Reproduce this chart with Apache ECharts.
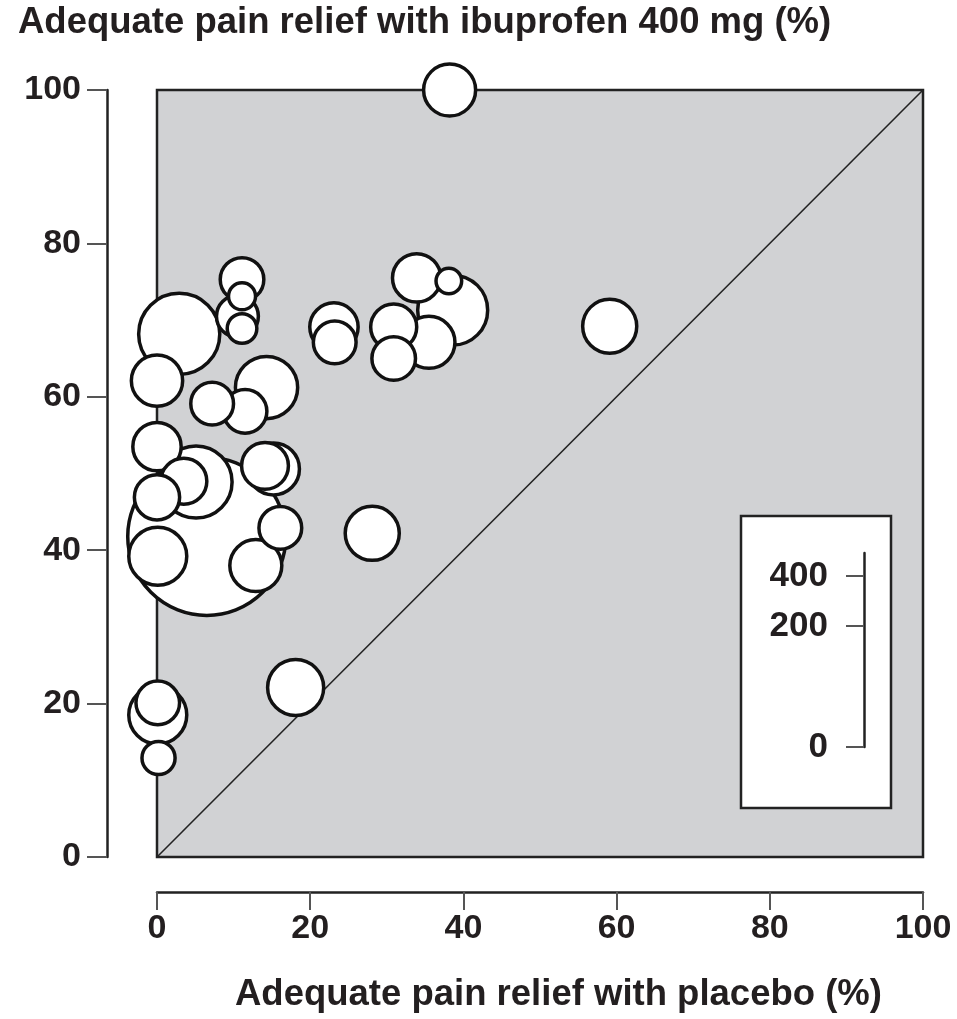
<!DOCTYPE html>
<html>
<head>
<meta charset="utf-8">
<script src="https://cdn.jsdelivr.net/npm/echarts@6/dist/echarts.min.js"></script>
<style>
  html, body { margin: 0; padding: 0; background: #fff; }
  #chart { width: 957px; height: 1019px; }
</style>
</head>
<body>
<div id="chart"></div>
<script>
// trial results: % with adequate pain relief (placebo vs ibuprofen 400 mg), trial size
var placebo   = [6.5, 2.9, 5.1, 38.6, 14.3, 0.1, 0.1, 18.1, 59.1, 28.1, 35.5, 12.9, 15.2, 38.2, 0, 0, 33.9, 23.1, 14.1, 3.5, 30.9, 0, 0.1, 11.1, 11.5, 30.9, 7.2, 16.1, 23.2, 10.5, 0.2, 11.1, 11.1, 38.1];
var ibuprofen = [41.8, 68.2, 48.9, 71.3, 61.2, 39.2, 18.5, 22.1, 69.2, 42.2, 67.1, 38.0, 50.6, 100, 62.1, 53.5, 75.5, 69.1, 51.0, 49.0, 69.1, 46.9, 20.1, 75.3, 58.1, 65.0, 59.1, 42.9, 67.1, 70.5, 12.9, 68.9, 73.1, 75.1];
var patients  = [342, 90, 71, 67, 53, 46, 46, 43, 40, 40, 37, 37, 37, 37, 36, 32, 32, 32, 30, 29, 29, 28, 26, 26, 26, 26, 25, 25, 25, 24, 15, 12, 10, 9];

var axisTicks = [0, 20, 40, 60, 80, 100];
var sizeTicks = [0, 200, 400];
var sizeMax = 515;

// px of diameter per sqrt(patient)
var K = 8.55;

var bubbles = placebo.map(function (x, i) {
  return [x, ibuprofen[i], patients[i]];
});
// biggest first so small ones sit on top
bubbles.sort(function (a, b) { return b[2] - a[2]; });

var font = 'Liberation Sans, Arial, sans-serif';
var ink = '#231f20';

var myChart = echarts.init(document.getElementById('chart'));

option = {
  animation: false,
  title: [
    {
      text: 'Adequate pain relief with ibuprofen 400 mg (%)',
      left: 18, top: 4, padding: 0,
      textStyle: { fontFamily: font, fontSize: 36.5, fontWeight: 'bold', color: ink }
    },
    {
      text: 'Adequate pain relief with placebo (%)',
      left: 235, top: 976, padding: 0,
      textStyle: { fontFamily: font, fontSize: 36.5, fontWeight: 'bold', color: ink }
    }
  ],
  grid: [
    {
      left: 157, top: 90, width: 766, height: 767,
      show: true, backgroundColor: '#d1d2d4',
      borderColor: '#222', borderWidth: 2.5
    },
    {
      // size scale
      left: 864, top: 553, width: 1, height: 194
    },
    {
      // white box around the size scale
      left: 741, top: 516, width: 150, height: 292,
      show: true, backgroundColor: '#fff',
      borderColor: '#222', borderWidth: 2.5
    }
  ],
  xAxis: [
    {
      gridIndex: 0,
      type: 'value', min: 0, max: 100, interval: 20,
      position: 'bottom', offset: 35,
      axisLine: { show: true, onZero: false, lineStyle: { color: '#222', width: 2.5 } },
      axisTick: { show: true, length: 18, lineStyle: { color: '#555', width: 2 } },
      axisLabel: {
        margin: 20, fontFamily: font, fontSize: 34, fontWeight: 'bold', color: ink,
        customValues: axisTicks
      },
      splitLine: { show: false }
    },
    {
      gridIndex: 1, type: 'value', show: false
    }
  ],
  yAxis: [
    {
      gridIndex: 0,
      type: 'value', min: 0, max: 100, interval: 20,
      position: 'left', offset: 50,
      axisLine: { show: true, onZero: false, lineStyle: { color: '#222', width: 2.5 } },
      axisTick: { show: true, length: 20, lineStyle: { color: '#555', width: 2 } },
      axisLabel: {
        margin: 26, fontFamily: font, fontSize: 34, fontWeight: 'bold', color: ink,
        customValues: axisTicks
      },
      splitLine: { show: false }
    },
    {
      gridIndex: 1,
      type: 'value', min: 0, max: Math.sqrt(sizeMax),
      position: 'left',
      axisLine: { show: true, onZero: false, lineStyle: { color: '#222', width: 2.5 } },
      axisTick: {
        show: true, length: 18, lineStyle: { color: '#555', width: 2 },
        customValues: sizeTicks.map(Math.sqrt)
      },
      axisLabel: {
        margin: 36, fontFamily: font, fontSize: 35, fontWeight: 'bold', color: ink,
        customValues: sizeTicks.map(Math.sqrt),
        formatter: function (v) { return Math.round(v * v); }
      },
      splitLine: { show: false }
    }
  ],
  series: [
    {
      type: 'line',
      xAxisIndex: 0, yAxisIndex: 0,
      data: [[0, 0], [100, 100]],
      showSymbol: false,
      silent: true,
      lineStyle: { color: '#222', width: 1.6 },
      z: 1
    },
    {
      type: 'scatter',
      xAxisIndex: 0, yAxisIndex: 0,
      data: bubbles,
      symbolSize: function (v) { return K * Math.sqrt(v[2]); },
      itemStyle: { color: '#fff', borderColor: '#111', borderWidth: 3.5, opacity: 1 },
      z: 3
    }
  ]
};

myChart.setOption(option);
</script>
</body>
</html>
